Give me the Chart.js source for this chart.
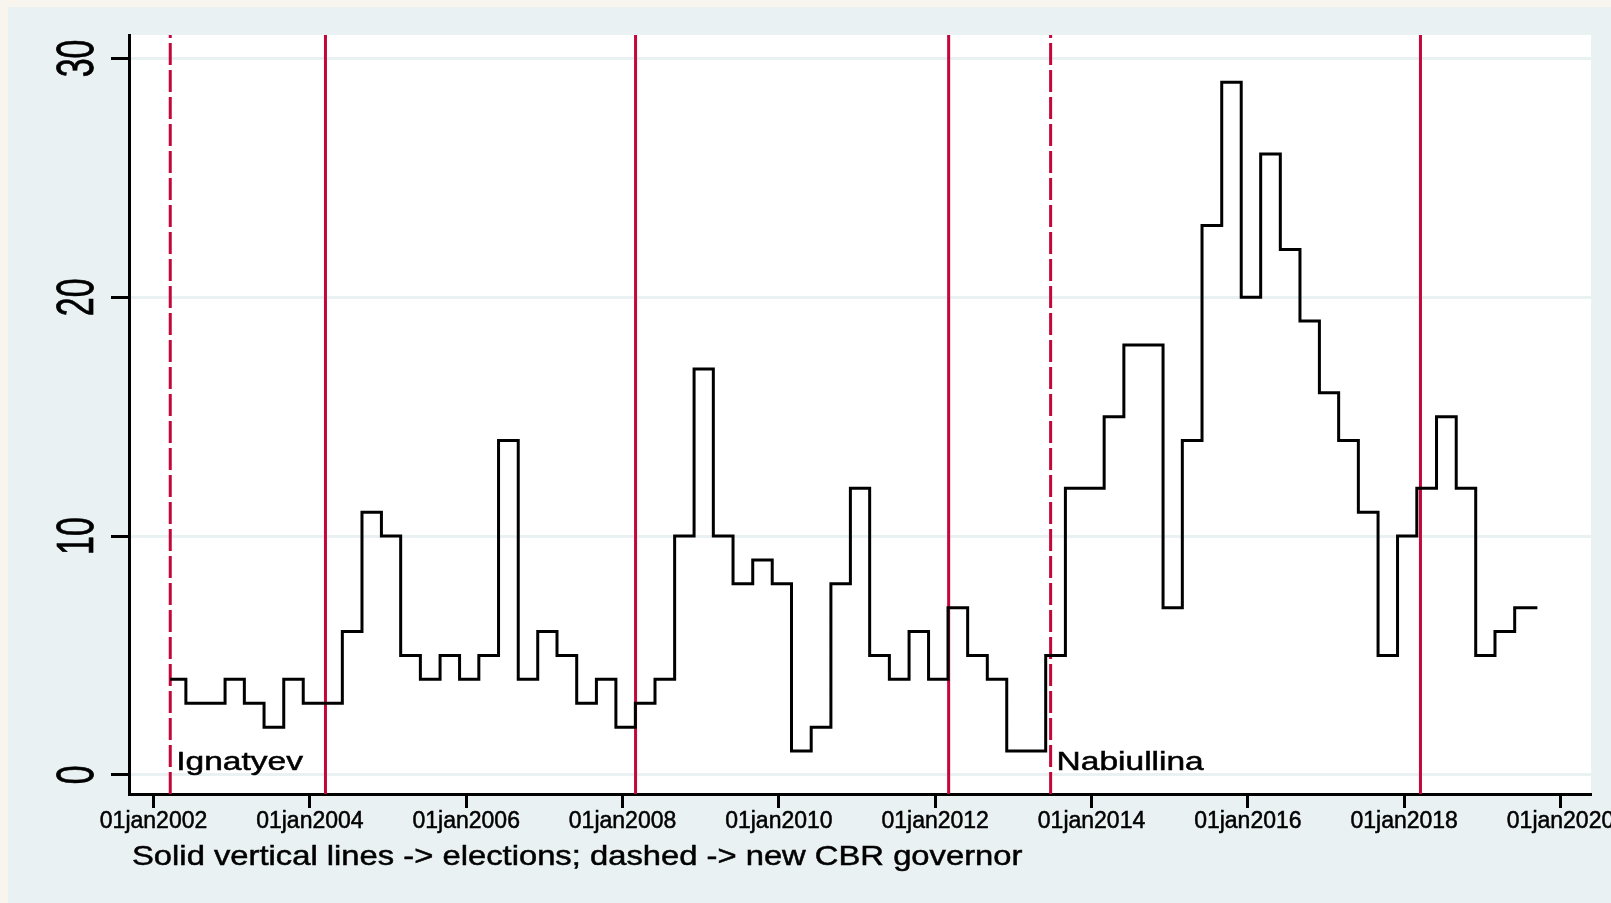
<!DOCTYPE html>
<html lang="en">
<head>
    <meta charset="UTF-8">
    <title>CBR governor and elections</title>
    <style>
        body {
            margin: 0;
            padding: 0;
            background-color: #eaf1f3;
            overflow: hidden;
        }

        .chart-container {
            width: 1611px;
            height: 903px;
        }
    </style>
    <script src="https://cdn.jsdelivr.net/npm/chart.js"></script>
</head>
<body>
    <div class="chart-container">
        <canvas id="myChart" width="1611" height="903"></canvas>
    </div>
    <script>
        // Quarterly observations (first point = start of Ignatyev's term)
        const dates = [
            '2002-03-20', '2002-06-01', '2002-09-01', '2002-12-01',
            '2003-03-01', '2003-06-01', '2003-09-01', '2003-12-01',
            '2004-03-01', '2004-06-01', '2004-09-01', '2004-12-01',
            '2005-03-01', '2005-06-01', '2005-09-01', '2005-12-01',
            '2006-03-01', '2006-06-01', '2006-09-01', '2006-12-01',
            '2007-03-01', '2007-06-01', '2007-09-01', '2007-12-01',
            '2008-03-01', '2008-06-01', '2008-09-01', '2008-12-01',
            '2009-03-01', '2009-06-01', '2009-09-01', '2009-12-01',
            '2010-03-01', '2010-06-01', '2010-09-01', '2010-12-01',
            '2011-03-01', '2011-06-01', '2011-09-01', '2011-12-01',
            '2012-03-01', '2012-06-01', '2012-09-01', '2012-12-01',
            '2013-03-01', '2013-06-01', '2013-09-01', '2013-12-01',
            '2014-03-01', '2014-06-01', '2014-09-01', '2014-12-01',
            '2015-03-01', '2015-06-01', '2015-09-01', '2015-12-01',
            '2016-03-01', '2016-06-01', '2016-09-01', '2016-12-01',
            '2017-03-01', '2017-06-01', '2017-09-01', '2017-12-01',
            '2018-03-01', '2018-06-01', '2018-09-01', '2018-12-01',
            '2019-03-01', '2019-06-01', '2019-09-15'
        ];
        const values = [
            4, 3, 3, 4,
            3, 2, 4, 3,
            3, 6, 11, 10,
            5, 4, 5, 4,
            5, 14, 4, 6,
            5, 3, 4, 2,
            3, 4, 10, 17,
            10, 8, 9, 8,
            1, 2, 8, 12,
            5, 4, 6, 4,
            7, 5, 4, 1,
            1, 5, 12, 12,
            15, 18, 18, 7,
            14, 23, 29, 20,
            26, 22, 19, 16,
            14, 11, 5, 10,
            12, 15, 12, 5,
            6, 7, 7
        ];

        // Vertical markers
        const electionDates = ['2004-03-14', '2008-03-02', '2012-03-04', '2018-03-18'];
        const governorDates = ['2002-03-20', '2013-06-24'];
        const governorNames = ['Ignatyev', 'Nabiullina'];

        // Axis ticks
        const xTickYears = [2002, 2004, 2006, 2008, 2010, 2012, 2014, 2016, 2018, 2020];
        const yTickValues = [0, 10, 20, 30];
        const caption = 'Solid vertical lines -> elections; dashed -> new CBR governor';

        const xMin = 2001.686, xMax = 2020.39;
        const yMin = -0.8, yMax = 30.98;

        const FONT = '"Liberation Sans", Arial, sans-serif';
        const RED = '#c4063a';

        // date string -> decimal year
        function toYear(s) {
            const [y, m, d] = s.split('-').map(Number);
            const start = Date.UTC(y, 0, 1);
            const end = Date.UTC(y + 1, 0, 1);
            return y + (Date.UTC(y, m - 1, d) - start) / (end - start);
        }

        const seriesData = dates.map((d, i) => ({ x: toYear(d), y: values[i] }));

        function verticalLine(d, dashed) {
            const xv = toYear(d);
            return {
                data: [{ x: xv, y: yMin }, { x: xv, y: yMax }],
                borderColor: RED,
                borderWidth: 3,
                borderDash: dashed ? [22, 5] : [],
                pointRadius: 0,
                fill: false
            };
        }

        const datasets = [{
            label: 'index',
            data: seriesData,
            stepped: true,
            borderColor: '#000000',
            borderWidth: 3,
            borderJoinStyle: 'miter',
            pointRadius: 0,
            fill: false
        }];
        electionDates.forEach(d => datasets.push(verticalLine(d, false)));
        governorDates.forEach(d => datasets.push(verticalLine(d, true)));

        // text drawn slightly heavier, like the blurry original
        function heavyText(ctx, text, x, y) {
            ctx.fillText(text, x, y);
            ctx.strokeText(text, x, y);
        }

        // Background panels and all text labels
        const decor = {
            id: 'decor',
            beforeDraw(chart) {
                const { ctx, chartArea: a, width, height } = chart;
                ctx.save();
                ctx.fillStyle = '#f8f4ee';
                ctx.fillRect(0, 0, width, height);
                ctx.fillStyle = '#eaf1f3';
                ctx.fillRect(8, 7, width - 8, height - 7);
                ctx.fillStyle = '#ffffff';
                ctx.fillRect(a.left, a.top, a.right - a.left, a.bottom - a.top);
                ctx.restore();
            },
            afterDraw(chart) {
                const { ctx, chartArea: a } = chart;
                const xs = chart.scales.x, ys = chart.scales.y;
                ctx.save();
                ctx.fillStyle = '#000000';
                ctx.strokeStyle = '#000000';
                ctx.lineWidth = 0.5;

                // y labels, rotated
                ctx.font = '34px ' + FONT;
                ctx.textAlign = 'center';
                ctx.textBaseline = 'alphabetic';
                yTickValues.forEach(v => {
                    ctx.save();
                    ctx.translate(a.left - 36, ys.getPixelForValue(v));
                    ctx.rotate(-Math.PI / 2);
                    ctx.scale(1, 1.5);
                    heavyText(ctx, String(v), 0, 0);
                    ctx.restore();
                });

                // x labels
                ctx.font = '23px ' + FONT;
                xTickYears.forEach(yr => {
                    heavyText(ctx, '01jan' + yr, xs.getPixelForValue(yr), a.bottom + 34);
                });

                // governor names
                ctx.font = '25px ' + FONT;
                ctx.textAlign = 'left';
                governorNames.forEach((name, i) => {
                    ctx.save();
                    ctx.translate(xs.getPixelForValue(toYear(governorDates[i])) + 6, ys.getPixelForValue(0) - 5);
                    ctx.scale(1.34, 1);
                    heavyText(ctx, name, 0, 0);
                    ctx.restore();
                });

                // note under the axis
                ctx.font = '28px ' + FONT;
                ctx.translate(a.left + 3, a.bottom + 71);
                ctx.scale(1.17, 1);
                heavyText(ctx, caption, 0, 0);
                ctx.restore();
            }
        };

        const ctx = document.getElementById('myChart').getContext('2d');
        const myChart = new Chart(ctx, {
            type: 'line',
            data: { datasets: datasets },
            options: {
                responsive: false,
                animation: false,
                layout: {
                    padding: { left: 111, top: 35, right: 20, bottom: 95 }
                },
                plugins: {
                    legend: { display: false },
                    tooltip: { enabled: false }
                },
                scales: {
                    x: {
                        type: 'linear',
                        min: xMin,
                        max: xMax,
                        afterBuildTicks: scale => {
                            scale.ticks = xTickYears.map(v => ({ value: v }));
                        },
                        ticks: { display: false },
                        grid: {
                            drawOnChartArea: false,
                            drawTicks: true,
                            tickLength: 14,
                            tickColor: '#000000',
                            tickWidth: 3
                        },
                        border: { display: true, color: '#000000', width: 3 }
                    },
                    y: {
                        type: 'linear',
                        min: yMin,
                        max: yMax,
                        afterBuildTicks: scale => {
                            scale.ticks = yTickValues.map(v => ({ value: v }));
                        },
                        ticks: { display: false },
                        grid: {
                            color: '#eaf1f3',
                            lineWidth: 3,
                            drawTicks: true,
                            tickLength: 18,
                            tickColor: '#000000',
                            tickWidth: 3
                        },
                        border: { display: true, color: '#000000', width: 3 }
                    }
                }
            },
            plugins: [decor]
        });
    </script>
</body>
</html>
